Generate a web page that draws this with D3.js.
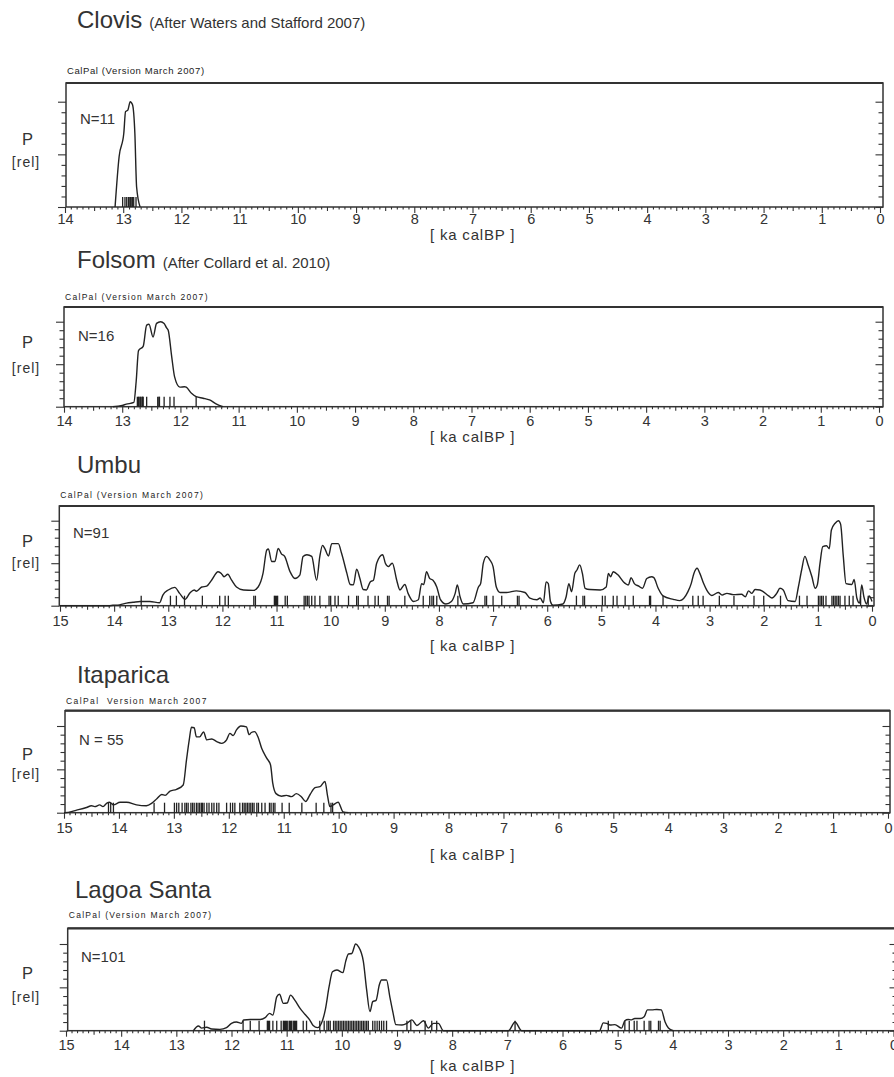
<!DOCTYPE html>
<html>
<head>
<meta charset="utf-8">
<style>
  body { margin: 0; background: #fff; }
  svg text { font-family: "Liberation Sans", Arial, sans-serif; fill: #333; }
  svg .frame { fill: none; stroke: #333; stroke-width: 1.5px; }
  svg .frame-top { stroke: #333; stroke-width: 2.2px; }
  svg .curve { fill: none; stroke: #222; stroke-width: 1.4px; stroke-linejoin: round; }
  svg .date { stroke: #222; stroke-width: 1.3px; }
  svg .tick line { stroke: #333; stroke-width: 1.1px; }
  svg .tick text { font-size: 14.5px; fill: #333; }
</style>
</head>
<body>
<script src="https://d3js.org/d3.v7.min.js"></script>
<script>
// ---- data: summed calibrated probability, [ka calBP, P rel] ----
var titles    = ["Clovis", "Folsom", "Umbu", "Itaparica", "Lagoa Santa"];
var subtitles = ["(After Waters and Stafford 2007)", "(After Collard et al. 2010)", "", "", ""];
var calpalNotes = ["CalPal (Version March 2007)", "CalPal (Version March 2007)",
                   "CalPal (Version March 2007)", "CalPal  Version March 2007",
                   "CalPal (Version March 2007)"];
var nLabels = ["N=11", "N=16", "N=91", "N = 55", "N=101"];
var xMaxKa  = [14, 14, 15, 15, 15];

var clovisCurve = [[13.14,0],[13.07,0.48],[12.99,0.70],[12.96,0.905],[12.92,0.92],[12.88,1.0],
  [12.84,0.97],[12.80,0.70],[12.77,0.19],[12.71,0]];
var clovisDates = [13.01,12.97,12.94,12.91,12.90,12.88,12.87,12.85,12.84,12.82,12.78];

var folsomCurve = [[13.16,0],[13.0,0.015],[12.93,0.03],[12.80,0.05],[12.76,0.30],[12.72,0.66],
  [12.64,0.71],[12.58,0.96],[12.54,0.97],[12.47,0.82],[12.41,0.98],[12.34,1.0],[12.28,0.98],
  [12.24,0.93],[12.21,0.90],[12.15,0.59],[12.10,0.35],[12.01,0.23],[11.93,0.235],[11.90,0.23],
  [11.81,0.157],[11.73,0.118],[11.61,0.10],[11.50,0.08],[11.38,0.03],[11.27,0]];
var folsomDates = [12.74,12.72,12.71,12.69,12.68,12.66,12.65,12.64,12.58,12.39,12.37,12.36,
  12.28,12.18,12.11,11.73];

var umbuCurve = [[15,0],[14.1,0],[14.02,0.005],[13.9,0.01],[13.77,0.03],[13.65,0.04],[13.52,0.05],
  [13.34,0.05],[13.16,0.035],[13.1,0.125],[13.0,0.185],[12.88,0.216],[12.79,0.145],[12.69,0.075],
  [12.60,0.15],[12.52,0.185],[12.48,0.17],[12.38,0.22],[12.29,0.23],[12.20,0.30],[12.08,0.40],
  [12.02,0.38],[11.97,0.34],[11.90,0.37],[11.83,0.30],[11.74,0.22],[11.61,0.185],[11.43,0.18],
  [11.34,0.22],[11.25,0.38],[11.18,0.655],[11.15,0.667],[11.09,0.52],[11.03,0.52],[10.97,0.675],
  [10.91,0.61],[10.85,0.58],[10.75,0.40],[10.66,0.32],[10.57,0.36],[10.51,0.58],[10.44,0.60],
  [10.35,0.58],[10.26,0.30],[10.20,0.58],[10.15,0.71],[10.11,0.675],[10.04,0.585],[9.98,0.73],
  [9.86,0.73],[9.80,0.62],[9.70,0.38],[9.64,0.25],[9.58,0.245],[9.52,0.43],[9.46,0.32],[9.40,0.19],
  [9.34,0.185],[9.27,0.28],[9.21,0.30],[9.15,0.50],[9.04,0.60],[8.99,0.50],[8.93,0.46],[8.90,0.48],
  [8.86,0.50],[8.78,0.30],[8.72,0.185],[8.63,0.25],[8.57,0.145],[8.47,0.05],[8.38,0.07],[8.32,0.26],
  [8.28,0.25],[8.23,0.40],[8.17,0.32],[8.11,0.30],[8.04,0.22],[7.97,0.07],[7.87,0.02],[7.77,0.05],
  [7.70,0.145],[7.66,0.245],[7.61,0.105],[7.55,0.02],[7.37,0.035],[7.27,0.22],[7.23,0.26],
  [7.18,0.50],[7.12,0.58],[7.06,0.54],[7.0,0.46],[6.94,0.22],[6.87,0.155],[6.75,0.155],[6.57,0.175],
  [6.41,0.155],[6.32,0.09],[6.19,0.07],[6.13,0.09],[6.07,0.035],[6.02,0.28],[5.98,0.26],[5.94,0.05],
  [5.89,0.005],[5.71,0.02],[5.65,0.105],[5.60,0.26],[5.55,0.165],[5.49,0.38],[5.45,0.42],[5.40,0.48],
  [5.35,0.38],[5.30,0.205],[5.21,0.19],[5.02,0.185],[4.91,0.22],[4.87,0.38],[4.83,0.34],[4.78,0.40],
  [4.69,0.36],[4.59,0.28],[4.50,0.245],[4.45,0.33],[4.39,0.26],[4.31,0.23],[4.24,0.205],[4.16,0.32],
  [4.07,0.34],[4.03,0.33],[3.95,0.205],[3.86,0.115],[3.67,0.075],[3.55,0.06],[3.40,0.165],
  [3.34,0.26],[3.29,0.38],[3.23,0.44],[3.18,0.38],[3.11,0.26],[3.05,0.18],[2.96,0.12],[2.84,0.155],
  [2.77,0.125],[2.68,0.145],[2.56,0.13],[2.41,0.135],[2.34,0.105],[2.28,0.175],[2.22,0.145],
  [2.16,0.19],[2.07,0.185],[1.91,0.115],[1.85,0.09],[1.76,0.145],[1.70,0.205],[1.64,0.185],
  [1.55,0.06],[1.42,0.05],[1.36,0.22],[1.30,0.42],[1.24,0.58],[1.18,0.48],[1.11,0.34],[1.05,0.205],
  [1.01,0.245],[0.96,0.50],[0.91,0.695],[0.84,0.705],[0.79,0.67],[0.75,0.89],[0.68,0.97],[0.62,1.0],
  [0.58,0.96],[0.53,0.58],[0.48,0.26],[0.37,0.25],[0.33,0.31],[0.28,0.09],[0.23,0.03],[0.19,0.245],
  [0.15,0.105],[0.10,0.02],[0.05,0.115],[0.0,0.05]];
var umbuDates = [13.50,12.96,12.85,12.70,12.37,12.05,11.95,11.89,11.42,11.39,11.04,11.02,11.00,
  10.98,10.84,10.80,10.49,10.46,10.43,10.40,10.35,10.29,10.20,10.03,10.00,9.92,9.86,9.67,9.52,9.49,
  9.31,9.18,9.12,8.95,8.92,8.63,8.29,8.17,8.13,8.10,8.04,7.65,7.15,7.12,7.00,6.84,6.55,6.52,5.46,
  5.34,5.31,4.98,4.93,4.78,4.71,4.56,4.41,4.11,4.09,3.86,3.31,3.21,3.12,2.82,2.55,2.18,2.00,1.69,
  1.34,1.20,0.99,0.96,0.93,0.90,0.85,0.74,0.71,0.68,0.65,0.62,0.59,0.50,0.42,0.35,0.21,0.07];

var itaparicaCurve = [[15,0],[14.98,0],[14.77,0.03],[14.59,0.06],[14.50,0.08],[14.44,0.07],
  [14.35,0.09],[14.29,0.07],[14.22,0.11],[14.17,0.12],[14.10,0.09],[13.98,0.12],[13.86,0.12],
  [13.68,0.09],[13.50,0.08],[13.40,0.11],[13.31,0.16],[13.22,0.21],[13.16,0.20],[13.07,0.25],
  [12.95,0.27],[12.83,0.32],[12.77,0.61],[12.72,0.84],[12.68,0.985],[12.63,0.98],[12.59,0.875],
  [12.53,0.875],[12.46,0.93],[12.40,0.84],[12.31,0.85],[12.22,0.82],[12.13,0.80],[12.04,0.84],
  [11.98,0.915],[11.92,0.89],[11.86,0.955],[11.78,1.0],[11.68,0.99],[11.63,0.90],[11.59,0.925],
  [11.53,0.935],[11.47,0.875],[11.40,0.74],[11.31,0.63],[11.24,0.55],[11.20,0.34],[11.14,0.22],
  [11.04,0.19],[10.95,0.20],[10.86,0.185],[10.77,0.22],[10.68,0.185],[10.60,0.13],[10.52,0.21],
  [10.43,0.29],[10.34,0.30],[10.25,0.36],[10.20,0.185],[10.16,0.07],[10.10,0.09],[10.01,0.12],
  [9.92,0.01],[9.82,0]];
var itaparicaDates = [14.19,14.15,14.10,13.36,13.17,12.99,12.95,12.91,12.85,12.80,12.77,12.74,
  12.69,12.66,12.63,12.59,12.56,12.53,12.50,12.48,12.45,12.40,12.36,12.31,12.27,12.22,12.18,12.04,
  11.97,11.93,11.89,11.80,11.75,11.72,11.69,11.66,11.63,11.60,11.57,11.54,11.49,11.46,11.40,11.34,
  11.26,11.23,11.19,11.16,11.03,10.90,10.67,10.41,10.27,10.14,10.11];

var lagoaCurve = [[12.69,0],[12.60,0.055],[12.54,0.03],[12.45,0.04],[12.36,0.02],[12.21,0.015],
  [12.09,0.035],[12.0,0.085],[11.91,0.10],[11.82,0.085],[11.78,0.123],[11.66,0.13],[11.48,0.13],
  [11.39,0.15],[11.31,0.20],[11.25,0.18],[11.18,0.39],[11.13,0.42],[11.06,0.315],[10.99,0.32],
  [10.93,0.41],[10.85,0.35],[10.76,0.26],[10.67,0.19],[10.58,0.123],[10.52,0.06],[10.44,0.035],
  [10.37,0.085],[10.30,0.24],[10.23,0.51],[10.17,0.68],[10.09,0.70],[9.98,0.67],[9.93,0.80],
  [9.88,0.885],[9.82,0.89],[9.75,1.0],[9.70,0.97],[9.61,0.80],[9.55,0.47],[9.49,0.22],[9.44,0.335],
  [9.38,0.35],[9.32,0.53],[9.28,0.585],[9.19,0.585],[9.13,0.39],[9.07,0.20],[9.02,0.07],[8.91,0.065],
  [8.82,0.085],[8.73,0.125],[8.64,0.06],[8.52,0.115],[8.43,0.03],[8.34,0.085],[8.25,0.085],
  [8.16,0],[6.98,0],[6.86,0.10],[6.74,0],[5.33,0],[5.26,0.09],[5.20,0.085],[5.14,0.065],[5.05,0.07],
  [4.93,0.03],[4.87,0.115],[4.81,0.13],[4.75,0.125],[4.69,0.14],[4.59,0.14],[4.52,0.16],[4.46,0.24],
  [4.38,0.24],[4.29,0.245],[4.21,0.24],[4.14,0.10],[4.08,0.03],[3.99,0]];
var lagoaDates = [12.49,11.79,11.66,11.50,11.35,11.33,11.31,11.25,11.18,11.10,11.06,11.04,11.02,
  11.00,10.98,10.95,10.93,10.91,10.88,10.86,10.84,10.82,10.70,10.64,10.40,10.32,10.27,10.24,10.21,
  10.15,10.12,10.09,10.06,10.03,10.00,9.97,9.94,9.91,9.88,9.85,9.82,9.79,9.76,9.73,9.70,9.67,9.64,
  9.61,9.58,9.55,9.52,9.44,9.40,9.36,9.32,9.28,9.24,9.19,8.82,8.75,8.49,8.37,8.28,6.86,5.17,4.87,
  4.79,4.70,4.65,4.52,4.43,4.40,4.26,4.23];

var curves = [clovisCurve, folsomCurve, umbuCurve, itaparicaCurve, lagoaCurve];
var dates  = [clovisDates, folsomDates, umbuDates, itaparicaDates, lagoaDates];

// ---- layout (pixels) for each panel ----
var layout = [
  { box: [66, 83, 883, 207],   x0: 65, x1: 880,   yTop: 101.7, titleY: 28,  noteY: 74,  noteSize: 9.5, noteSp: 0.6,
    pY: 145, relY: 166.7, nX: 80, nY: 124, labY: 224, axY: 240 },
  { box: [64, 307, 883, 406.7], x0: 64, x1: 879, yTop: 321.7, titleY: 268, noteY: 299.5, noteSize: 8.5, noteSp: 1.3,
    pY: 348.3, relY: 373.3, nX: 78, nY: 340.7, labY: 426.5, axY: 442 },
  { box: [59.3, 506, 874, 605.7], x0: 60, x1: 872, yTop: 520.7, titleY: 472.5, noteY: 497.7, noteSize: 8.5, noteSp: 1.3,
    pY: 547.3, relY: 568.3, nX: 73, nY: 538.3, labY: 626, axY: 651 },
  { box: [65, 710.7, 890, 812.7], x0: 64, x1: 888, yTop: 726, titleY: 683.3, noteY: 704, noteSize: 8.5, noteSp: 1.4,
    pY: 760, relY: 779.3, nX: 79, nY: 745, labY: 833, axY: 860 },
  { box: [67.7, 928.3, 897, 1030.7], x0: 66, x1: 893.5, yTop: 944, titleY: 898, noteY: 918.3, noteSize: 8.5, noteSp: 1.3,
    pY: 979.3, relY: 1001.7, nX: 81, nY: 961.7, labY: 1050.5, axY: 1071 }
];

var svg = d3.select("body").append("svg")
  .attr("width", 894)
  .attr("height", 1077);

var line = d3.line().curve(d3.curveMonotoneX);

titles.forEach(function (name, i) {
  var L = layout[i];
  var left = L.box[0], top = L.box[1], right = L.box[2], bottom = L.box[3];
  var g = svg.append("g");

  var x = d3.scaleLinear().domain([xMaxKa[i], 0]).range([L.x0, L.x1]);
  var y = d3.scaleLinear().domain([0, 1]).range([bottom, L.yTop]);

  // title + source
  var t = g.append("text").attr("x", i === 4 ? 75 : 77).attr("y", L.titleY);
  t.append("tspan").style("font-size", "24px").text(name);
  if (subtitles[i]) {
    t.append("tspan").attr("dx", 7).style("font-size", "15px").text(subtitles[i]);
  }

  g.append("text")
    .attr("x", left + 1).attr("y", L.noteY)
    .style("font-size", L.noteSize + "px")
    .style("letter-spacing", L.noteSp + "px")
    .style("white-space", "pre")
    .style("fill", "#222")
    .text(calpalNotes[i]);

  // frame
  g.append("rect").attr("class", "frame")
    .attr("x", left).attr("y", top)
    .attr("width", right - left).attr("height", bottom - top);
  g.append("line").attr("class", "frame-top")
    .attr("x1", left).attr("x2", right).attr("y1", top).attr("y2", top);

  // x axis (tenths, halves, integers)
  var xTicks = d3.range(0, xMaxKa[i] * 10 + 1).map(function (k) { return k / 10; });
  var isInt = function (d) { return Math.abs(d - Math.round(d)) < 1e-6; };
  var isHalf = function (d) { return Math.abs(d * 2 - Math.round(d * 2)) < 1e-6; };
  var xa = g.append("g")
    .attr("transform", "translate(0," + bottom + ")")
    .call(d3.axisBottom(x).tickValues(xTicks).tickSize(6)
      .tickFormat(function (d) { return isInt(d) ? d3.format("d")(Math.round(d)) : ""; }));
  xa.select(".domain").remove();
  xa.selectAll(".tick line")
    .attr("y2", function (d) { return isInt(d) ? 6 : (isHalf(d) ? 4 : 2.5); });
  xa.selectAll(".tick text")
    .attr("y", L.labY - bottom).attr("dy", 0);

  // y axes: left outside, right inside
  var yTicks = d3.range(0, 11).map(function (k) { return k / 10; });
  var yMajor = function (d) { return Math.abs(d * 2 - Math.round(d * 2)) < 1e-6; };
  var ya = g.append("g")
    .attr("transform", "translate(" + left + ",0)")
    .call(d3.axisLeft(y).tickValues(yTicks).tickFormat(""));
  ya.select(".domain").remove();
  ya.selectAll(".tick line").attr("x2", function (d) { return yMajor(d) ? -8 : -4.5; });

  var yb = g.append("g")
    .attr("transform", "translate(" + right + ",0)")
    .call(d3.axisLeft(y).tickValues(yTicks).tickFormat(""));
  yb.select(".domain").remove();
  yb.selectAll(".tick line").attr("x2", function (d) { return yMajor(d) ? -7.5 : -4.5; });

  // axis titles
  g.append("text")
    .attr("x", 27.5).attr("y", L.pY)
    .attr("text-anchor", "middle")
    .style("font-size", "16.5px")
    .text("P");
  g.append("text")
    .attr("x", 26).attr("y", L.relY)
    .attr("text-anchor", "middle")
    .style("font-size", "14px")
    .style("letter-spacing", "1px")
    .text("[rel]");
  g.append("text")
    .attr("x", 430).attr("y", L.axY)
    .style("font-size", "15px")
    .style("letter-spacing", "0.8px")
    .style("white-space", "pre")
    .text("[ ka calBP ]");

  g.append("text")
    .attr("x", L.nX).attr("y", L.nY)
    .style("font-size", "15px")
    .style("white-space", "pre")
    .text(nLabels[i]);

  // individual dates
  g.selectAll("line.date")
    .data(dates[i])
    .enter().append("line")
      .attr("class", "date")
      .attr("x1", function (d) { return x(d); })
      .attr("x2", function (d) { return x(d); })
      .attr("y1", y(0))
      .attr("y2", y(0) - 10);

  // probability curve
  g.append("path")
    .attr("class", "curve")
    .attr("d", line(curves[i].map(function (d) { return [x(d[0]), y(d[1])]; })));
});
</script>
</body>
</html>
